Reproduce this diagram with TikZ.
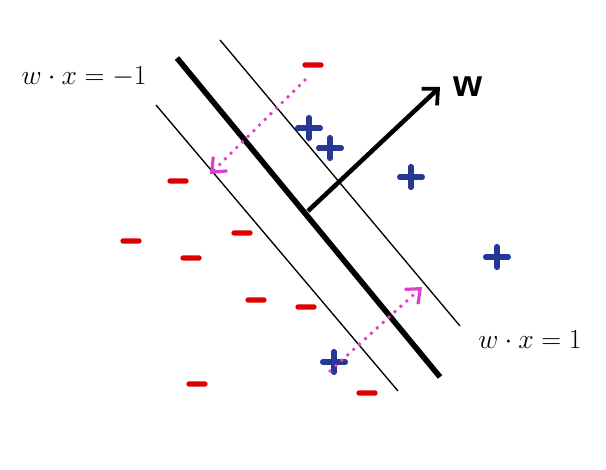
\documentclass[tikz,border=0pt]{standalone}
\usepackage{amsmath}
\usepackage{fontspec}
\newfontfamily\wfont{Liberation Sans}
\usetikzlibrary{arrows.meta}
\definecolor{negred}{RGB}{222,0,0}
\definecolor{posblue}{RGB}{38,56,150}
\definecolor{marg}{RGB}{222,64,204}
\tikzset{
	minus/.style={fill=negred,minimum width=16pt,minimum height=4pt,inner sep=0pt,rounded corners=2pt},
	plus/.style={minimum size=26pt,inner sep=0pt,path picture={
		\draw[posblue,line width=4pt,line cap=round] ([xshift=-8.5pt]path picture bounding box.center) -- ([xshift=8.5pt]path picture bounding box.center);
		\draw[posblue,line width=4pt,line cap=round] ([yshift=-7.8pt]path picture bounding box.center) -- ([yshift=7.8pt]path picture bounding box.center);}},
	gap/.style={marg,line width=2.9pt,line cap=round,dash pattern=on 0pt off 6pt,-{Straight Barb[length=9pt,width=15pt,line width=2.4pt]}},
	eq/.style={font=\fontsize{22}{27}\selectfont}
}
\begin{document}
\begin{tikzpicture}[x=0.75pt,y=-0.75pt]
				\useasboundingbox (0,0) rectangle (606,470);
				% hyperplane and margins
				\coordinate (h0) at (177,58);
				\coordinate (h1) at (440,377);
				\coordinate (p0) at (220,40);
				\coordinate (p1) at (460,326);
				\coordinate (n0) at (156,105);
				\coordinate (n1) at (398,391);
				\draw[line width=4.2pt] (h0) -- (h1);
				\draw[line width=1pt] (p0) -- (p1);
				\draw[line width=1pt] (n0) -- (n1);
				% normal vector
				\coordinate (w0) at (308,211);
				\coordinate (w1) at (440,87);
				\draw[line width=3.4pt,-{Straight Barb[length=9pt,width=17pt,line width=2.8pt]}] (w0) -- (w1);
				\node[font=\wfont\bfseries\fontsize{28}{32}\selectfont] (w) at (468,87) {w};
				\node[eq] (lneg) at (84,77) {$w\cdot x=-1$};
				\node[eq] (lpos) at (530,340) {$w\cdot x=1$};
				% points
				\foreach \x/\y [count=\i] in {313/65,178/181,131/241,242/233,191/258,256/300,306/307,197/384,367/393}
					\node[minus] (m\i) at (\x,\y) {};
				\foreach \x/\y [count=\i] in {309/128,330/148,411/177,497/257,334/362}
					\node[plus] (s\i) at (\x,\y) {};
				% violations
				\coordinate (a0) at (305,80);
				\coordinate (a1) at (210,174);
				\coordinate (b0) at (330,371);
				\coordinate (b1) at (422,287);
				\draw[gap] (a0) -- (a1);
				\draw[gap] (b0) -- (b1);
			\end{tikzpicture}
\end{document}
